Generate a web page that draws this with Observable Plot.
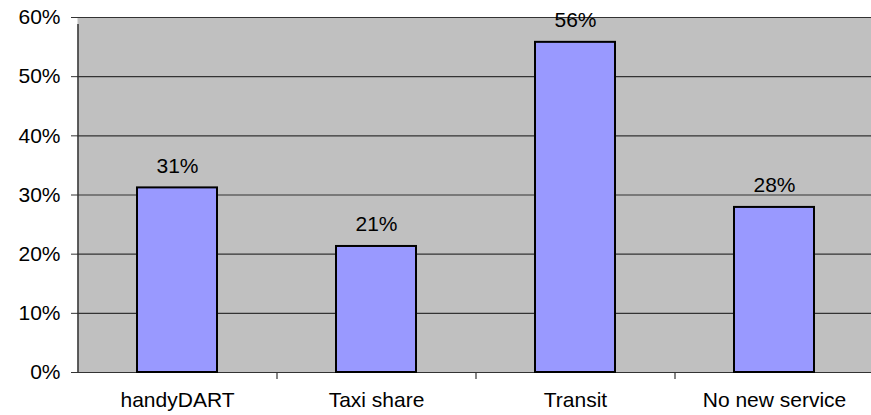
<!DOCTYPE html>
<html>
<head>
<meta charset="utf-8">
<script src="https://cdn.jsdelivr.net/npm/d3@7"></script>
<script src="https://cdn.jsdelivr.net/npm/@observablehq/plot@0.6"></script>
<style>
  html, body { margin: 0; padding: 0; background: #fff; overflow: hidden; }
  #chart svg { display: block; }
</style>
</head>
<body>
<div id="chart"></div>
<script>
const categories = ["handyDART", "Taxi share", "Transit", "No new service"];
const values = [31.2, 21.3, 55.8, 27.9];
const valueLabels = ["31%", "21%", "56%", "28%"];
const yTicks = [0, 10, 20, 30, 40, 50, 60];

const data = categories.map((c, i) => ({ category: c, value: values[i], label: valueLabels[i] }));

const W = 871, H = 415;
const mL = 77, mR = 0, mT = 17, mB = 43;
const step = 199;
const gridColor = "#333333";

const chart = Plot.plot({
  width: W,
  height: H,
  marginLeft: mL,
  marginRight: mR,
  marginTop: mT,
  marginBottom: mB,
  style: { fontFamily: "'Liberation Sans', Arial, sans-serif", fontSize: "21px", color: "#000", background: "#fff" },
  x: { domain: categories, range: [mL, mL + step * categories.length], paddingInner: 0.6, paddingOuter: 0.3, axis: null },
  y: { domain: [0, 60], ticks: yTicks, tickFormat: d => d + "%", tickSize: 6, tickPadding: 11, label: null },
  marks: [
    Plot.frame({ fill: "#c0c0c0", stroke: null }),
    Plot.ruleY(yTicks, { stroke: gridColor, strokeWidth: 1.2 }),
    Plot.ruleX([categories[0]], { x: d => d, dx: -step / 2, y1: () => 0, y2: () => 60, insetBottom: -7, stroke: gridColor, strokeWidth: 1.5 }),
    Plot.ruleX(categories.slice(1), { x: d => d, dx: -step / 2, y1: () => 0, y2: () => 0, insetBottom: -7, stroke: gridColor, strokeWidth: 1.2 }),
    Plot.barY(data, { x: "category", y: "value", fill: "#9999ff", stroke: "#000", strokeWidth: 2 }),
    Plot.text(data, { x: "category", y: "value", text: "label", dy: -22, fill: "#000" }),
    Plot.text(data, { x: "category", y: () => 0, text: "category", dy: 28, fill: "#000" })
  ]
});
chart.querySelectorAll("g[aria-label='y-axis tick'] path").forEach(p => p.setAttribute("stroke", gridColor));
document.getElementById("chart").appendChild(chart);
</script>
</body>
</html>
